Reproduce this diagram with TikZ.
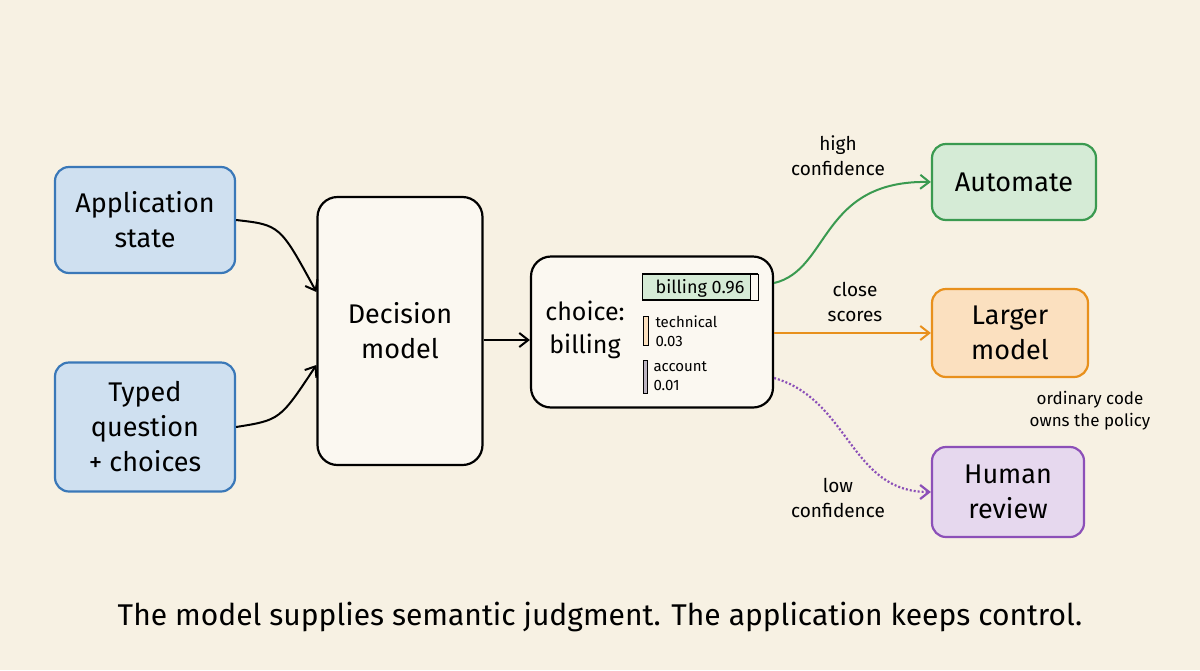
\documentclass[tikz,border=0pt]{standalone}
\usepackage{fontspec}
\setmainfont{Fira Sans}
\usetikzlibrary{arrows.meta}
\definecolor{bg}{HTML}{F7F1E3}
\definecolor{bluef}{HTML}{CFE0F0}\definecolor{blued}{HTML}{3A78B8}
\definecolor{greenf}{HTML}{D5EBD6}\definecolor{greend}{HTML}{3A9A50}
\definecolor{orangef}{HTML}{FBE0BF}\definecolor{oranged}{HTML}{E8901C}
\definecolor{purplef}{HTML}{E6D8EE}\definecolor{purpled}{HTML}{8C50B8}
\begin{document}
\begin{tikzpicture}[x=1pt,y=-1pt,
  box/.style={draw,line width=2.2pt,rounded corners=14pt,align=center,inner sep=0pt,font=\fontsize{27}{35}\selectfont},
  arr/.style={line width=2pt,-{Straight Barb[length=9pt,width=14pt]}},
  lbl/.style={align=center,font=\fontsize{19}{25}\selectfont}]
\fill[bg] (0,0) rectangle (1200,670);
\useasboundingbox (0,0) rectangle (1200,670);
\node[box,fill=bluef,draw=blued,minimum width=180pt,minimum height=106pt] (app) at (145,220) {Application\\state};
\node[box,fill=bluef,draw=blued,minimum width=180pt,minimum height=129pt] (typed) at (145,427) {Typed\\question\\+ choices};
\node[box,fill=bg!50!white,draw=black,minimum width=165pt,minimum height=268pt,rounded corners=20pt] (dec) at (400,331) {Decision\\model};
\node[box,fill=bg!50!white,draw=black,minimum width=242pt,minimum height=151pt,rounded corners=20pt] (ch) at (652,332) {};
\node[align=center,font=\fontsize{25}{33}\selectfont] (chl) at (585,330) {choice:\\billing};
\node[draw=black,line width=1.2pt,fill=greenf,minimum width=115pt,minimum height=26pt,inner sep=0pt] (bb) at (700,287) {};
\fill[bg!50!white,draw=black,line width=1pt] (750,274) rectangle (758,300);
\node[font=\fontsize{18}{20}\selectfont,anchor=east] (bt) at (748,288) {billing 0.96};
\node[draw=black,line width=1pt,fill=orangef,minimum width=5pt,minimum height=29pt,inner sep=0pt] (tb) at (645.5,330.5) {};
\node[align=left,anchor=west,font=\fontsize{15}{19}\selectfont] (tt) at (652,331) {technical\\0.03};
\node[draw=black,line width=1pt,fill=purplef!60!gray,minimum width=4pt,minimum height=33pt,inner sep=0pt] (ab) at (645,376.5) {};
\node[align=left,anchor=west,font=\fontsize{15}{19}\selectfont] (at) at (650,376) {account\\0.01};
\node[box,fill=greenf,draw=greend,minimum width=164pt,minimum height=76pt] (aut) at (1014,182) {Automate};
\node[box,fill=orangef,draw=oranged,minimum width=156pt,minimum height=88pt] (lar) at (1010,333) {Larger\\model};
\node[box,fill=purplef,draw=purpled,minimum width=152pt,minimum height=90pt] (hum) at (1008,492) {Human\\review};
\draw[arr] (app.east) .. controls (280,225) .. (dec.west |- 0,292);
\draw[arr] (typed.east) .. controls (280,420) .. (dec.west |- 0,365);
\draw[arr] (dec.east |- 0,340) -- (ch.west |- 0,340);
\draw[arr,greend] (ch.east |- 0,283) .. controls (830,270) and (820,180) .. (aut.west);
\draw[arr,oranged] (ch.east |- 0,333) -- (lar.west);
\draw[arr,purpled,dotted,line width=2.2pt] (ch.east |- 0,378) .. controls (850,400) and (850,492) .. (hum.west);
\node[lbl] (l1) at (838,156) {high\\confidence};
\node[lbl] (l2) at (855,302) {close\\scores};
\node[lbl] (l3) at (838,498) {low\\confidence};
\node[lbl,font=\fontsize{17}{22}\selectfont] (l4) at (1090,411) {ordinary code\\owns the policy};
\node[font=\fontsize{30}{36}\selectfont] (cap) at (600,617) {The model supplies semantic judgment. The application keeps control.};
\end{tikzpicture}
\end{document}
